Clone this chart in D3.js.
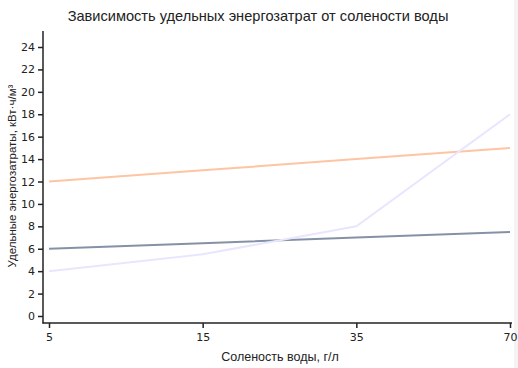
<!DOCTYPE html>
<html><head><meta charset="utf-8">
<script src="https://cdn.jsdelivr.net/npm/d3@7"></script>
<style>body{margin:0;background:#fff}svg{display:block}text{font-family:"Liberation Sans",Arial,sans-serif}</style>
</head><body><div id="c"></div>
<script>
const categories = ["5", "15", "35", "70"];
const orangeSeries = [12, 13, 14, 15];
const graySeries = [6, 6.5, 7, 7.5];
const lavenderSeries = [4, 5.5, 8, 18];
const yTicks = [0, 2, 4, 6, 8, 10, 12, 14, 16, 18, 20, 22, 24];
const series = [
  {name: "orange", values: orangeSeries, color: "#ffc4a3"},
  {name: "gray", values: graySeries, color: "#8592a6"},
  {name: "lavender", values: lavenderSeries, color: "#e8e6ff"}
];
const W = 518, H = 368;
const svg = d3.select("#c").append("svg").attr("width", W).attr("height", H);
svg.append("rect").attr("x", 514).attr("y", 0).attr("width", 4).attr("height", H).attr("fill", "#f3f3f3");
const x = d3.scalePoint().domain(categories).range([49, 510]);
const y = d3.scaleLinear().domain([0, 24]).range([316, 47]);
const axisColor = "#222";
svg.append("line").attr("x1", 43).attr("x2", 43).attr("y1", 31).attr("y2", 323.5).attr("stroke", axisColor).attr("stroke-width", 1.5);
svg.append("line").attr("x1", 42.5).attr("x2", 512).attr("y1", 323).attr("y2", 323).attr("stroke", axisColor).attr("stroke-width", 1.5);
const ya = svg.append("g").attr("transform", "translate(43,0)")
  .call(d3.axisLeft(y).tickValues(yTicks).tickSize(5).tickPadding(3));
ya.select(".domain").remove();
const xa = svg.append("g").attr("transform", "translate(0,323)")
  .call(d3.axisBottom(x).tickSize(5).tickPadding(5));
xa.select(".domain").remove();
[ya, xa].forEach(a => {
  a.selectAll(".tick line").attr("stroke", axisColor).attr("stroke-width", 1.5);
  a.selectAll("text").attr("fill", "#222").style("font-size", "11px").style("font-family", "'DejaVu Sans', sans-serif");
});
const line = d3.line().x((d, i) => x(categories[i])).y(d => y(d));
series.forEach(s => {
  svg.append("path").datum(s.values).attr("d", line).attr("fill", "none")
    .attr("stroke", s.color).attr("stroke-width", 2);
});
svg.append("text").attr("x", 258).attr("y", 21).attr("text-anchor", "middle")
  .style("font-size", "14.6px").attr("fill", "#222").text("Зависимость удельных энергозатрат от солености воды");
svg.append("text").attr("x", 280).attr("y", 361).attr("text-anchor", "middle")
  .style("font-size", "12.5px").attr("fill", "#222").text("Соленость воды, г/л");
svg.append("text").attr("transform", "translate(16,176) rotate(-90)").attr("text-anchor", "middle")
  .style("font-size", "11.5px").attr("fill", "#222").text("Удельные энергозатраты, кВт·ч/м³");
</script></body></html>
